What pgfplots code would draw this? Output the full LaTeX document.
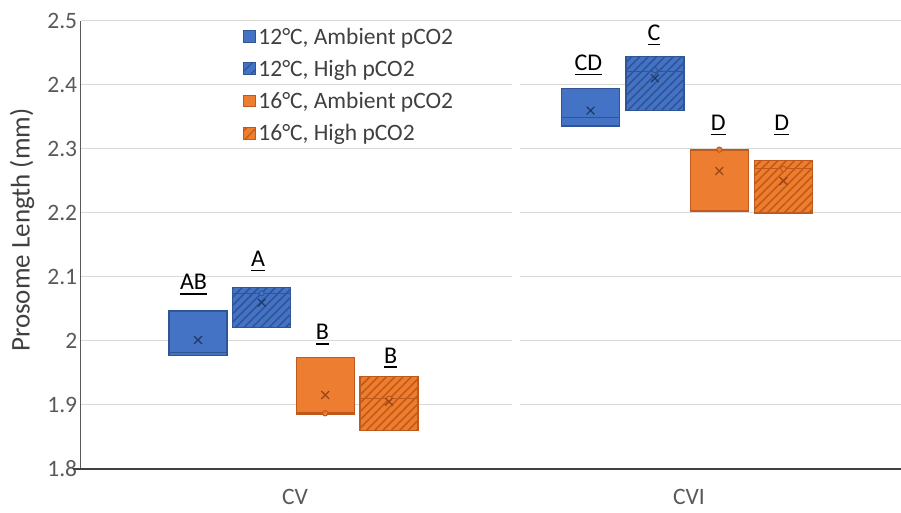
\documentclass[border=0pt]{standalone}
\usepackage{fontspec}
\setmainfont{Carlito}
\usepackage{pgfplots}
\pgfplotsset{compat=1.18}
\usepgfplotslibrary{statistics}
\usetikzlibrary{patterns,patterns.meta}
\definecolor{bfill}{HTML}{4472C4}
\definecolor{bedge}{HTML}{2F5597}
\definecolor{bhatch}{HTML}{2F5597}
\definecolor{bmean}{HTML}{1F3864}
\definecolor{ofill}{HTML}{ED7D31}
\definecolor{oedge}{HTML}{C05A1C}
\definecolor{ohatch}{HTML}{C55A11}
\definecolor{omean}{HTML}{9A4516}
\definecolor{gridgray}{HTML}{D9D9D9}
\definecolor{tickgray}{HTML}{595959}
\definecolor{labgray}{HTML}{404040}
\newcommand\ulbl[1]{\setbox0\hbox{#1}\rlap{\rule[-4.6pt]{\wd0}{1.6pt}}\box0}
\pgfplotsset{
  bamb/.style={draw=bedge, line width=1.2pt, boxplot/draw direction=y, boxplot/whisker extend=0,
    boxplot/every box/.style={fill=bfill}},
  bhigh/.style={draw=bedge, line width=1.2pt, boxplot/draw direction=y, boxplot/whisker extend=0,
    boxplot/every box/.style={fill=bfill, postaction={pattern={Lines[angle=45,distance=5.9pt,line width=1.6pt]}, pattern color=bhatch}}},
  oamb/.style={draw=oedge, line width=1.2pt, boxplot/draw direction=y, boxplot/whisker extend=0,
    boxplot/every box/.style={fill=ofill}},
  ohigh/.style={draw=oedge, line width=1.2pt, boxplot/draw direction=y, boxplot/whisker extend=0,
    boxplot/every box/.style={fill=ofill, postaction={pattern={Lines[angle=45,distance=5.9pt,line width=1.6pt]}, pattern color=ohatch}}},
}
\begin{document}
\begin{tikzpicture}
\useasboundingbox (-80.7pt,-44pt) rectangle (820.3pt,469pt);
\begin{axis}[
  at={(0pt,0pt)}, anchor=south west,
  scale only axis, width=820.3pt, height=448pt,
  xmin=80.7, xmax=901, ymin=1.8, ymax=2.5,
  clip=false,
  axis line style={draw=none},
  ytick={1.8,1.9,2,2.1,2.2,2.3,2.4,2.5},
  xtick={295,689}, xticklabels={CV,CVI},
  ymajorgrids, grid style={draw=gridgray, line width=1pt},
  major tick length=0pt,
  /pgf/number format/assume math mode=true,
  tick label style={font=\fontsize{23.5}{27}\selectfont, text=tickgray},
  xticklabel style={anchor=base, inner sep=0pt, yshift=-36pt},
  ylabel={Prosome Length (mm)},
  ylabel style={font=\fontsize{27}{32}\selectfont, text=labgray, at={(axis description cs:-0.0716,0.533)}, anchor=center},
  legend style={at={(rel axis cs:0.1979,1)}, anchor=north west, yshift=-4pt, draw=none, fill=none,
    font=\fontsize{23.5}{27}\selectfont, text=labgray, inner sep=0pt,
    nodes={inner sep=2.5pt}, row sep=9.5pt, cells={anchor=west}},
  legend image code/.code={\draw[#1, line width=1pt] (0pt,-5.5pt) rectangle (11.5pt,6pt);},
]
\addlegendimage{draw=bedge, fill=bfill}
\addlegendentry{12°C, Ambient pCO2}
\addlegendimage{draw=bedge, fill=bfill, postaction={pattern={Lines[angle=45,distance=7pt,line width=1.2pt]}, pattern color=bhatch}}
\addlegendentry{12°C, High pCO2}
\addlegendimage{draw=oedge, fill=ofill}
\addlegendentry{16°C, Ambient pCO2}
\addlegendimage{draw=oedge, fill=ofill, postaction={pattern={Lines[angle=45,distance=7pt,line width=1.2pt]}, pattern color=ohatch}}
\addlegendentry{16°C, High pCO2}

\draw[white, line width=8pt] (axis cs:516,1.8) -- (axis cs:516,2.5);

% CV
\addplot[forget plot, bamb, boxplot prepared={draw position=198, box extend=58,
  lower whisker=1.977, lower quartile=1.977, median=1.982, upper quartile=2.047, upper whisker=2.047}] coordinates {};
\addplot[forget plot, bhigh, boxplot prepared={draw position=261.7, box extend=58,
  lower whisker=2.021, lower quartile=2.021, median=2.0745, upper quartile=2.084, upper whisker=2.084}] coordinates {};
\addplot[forget plot, oamb, boxplot prepared={draw position=325.2, box extend=58,
  lower whisker=1.886, lower quartile=1.886, median=1.888, upper quartile=1.9745, upper whisker=1.9745}] coordinates {};
\addplot[forget plot, ohigh, boxplot prepared={draw position=389, box extend=58,
  lower whisker=1.860, lower quartile=1.860, median=1.910, upper quartile=1.944, upper whisker=1.944}] coordinates {};
% CVI
\addplot[forget plot, bamb, boxplot prepared={draw position=590.5, box extend=58,
  lower whisker=2.336, lower quartile=2.336, median=2.3495, upper quartile=2.395, upper whisker=2.395}] coordinates {};
\addplot[forget plot, bhigh, boxplot prepared={draw position=654.9, box extend=58,
  lower whisker=2.360, lower quartile=2.360, median=2.421, upper quartile=2.445, upper whisker=2.445}] coordinates {};
\addplot[forget plot, oamb, boxplot prepared={draw position=719.3, box extend=58,
  lower whisker=2.203, lower quartile=2.203, median=2.298, upper quartile=2.299, upper whisker=2.299}] coordinates {};
\addplot[forget plot, ohigh, boxplot prepared={draw position=783.4, box extend=58,
  lower whisker=2.200, lower quartile=2.200, median=2.269, upper quartile=2.282, upper whisker=2.282}] coordinates {};

% points
\addplot[forget plot, only marks, mark=*, mark size=2.6pt, mark options={draw=bedge, fill=bfill, line width=1pt}]
  coordinates {(261.7,2.0745) (654.9,2.423)};
\addplot[forget plot, only marks, mark=*, mark size=2.6pt, mark options={draw=oedge, fill=ofill, line width=1pt}]
  coordinates {(325.2,1.887) (389,1.910) (719.3,2.299) (783.4,2.269)};
% means
\addplot[forget plot, only marks, mark=x, mark size=5.5pt, mark options={draw=bmean, line width=1.2pt}]
  coordinates {(198,2.0016) (261.7,2.060) (590.5,2.360) (654.9,2.4105)};
\addplot[forget plot, only marks, mark=x, mark size=5.5pt, mark options={draw=omean, line width=1.2pt}]
  coordinates {(325.2,1.9156) (389,1.905) (719.3,2.2656) (783.4,2.250)};

% letters
\begin{scope}[every node/.style={anchor=base, font=\fontsize{24}{28}\selectfont, text=black}]
\node at (axis cs:193.5,2.0797) {\ulbl{AB}};
\node at (axis cs:258,2.116) {\ulbl{A}};
\node at (axis cs:322.5,2.0016) {\ulbl{B}};
\node at (axis cs:390.7,1.9656) {\ulbl{B}};
\node at (axis cs:588.3,2.4222) {\ulbl{CD}};
\node at (axis cs:654,2.469) {\ulbl{C}};
\node at (axis cs:718.3,2.3286) {\ulbl{D}};
\node at (axis cs:781.7,2.3286) {\ulbl{D}};
\end{scope}

\draw[draw=tickgray, line width=1.2pt] (axis cs:80.7,1.8) -- (axis cs:80.7,2.5);
\draw[draw=labgray, line width=1.6pt] (axis cs:72.7,1.8) -- (axis cs:901,1.8);
\end{axis}
\end{tikzpicture}
\end{document}
